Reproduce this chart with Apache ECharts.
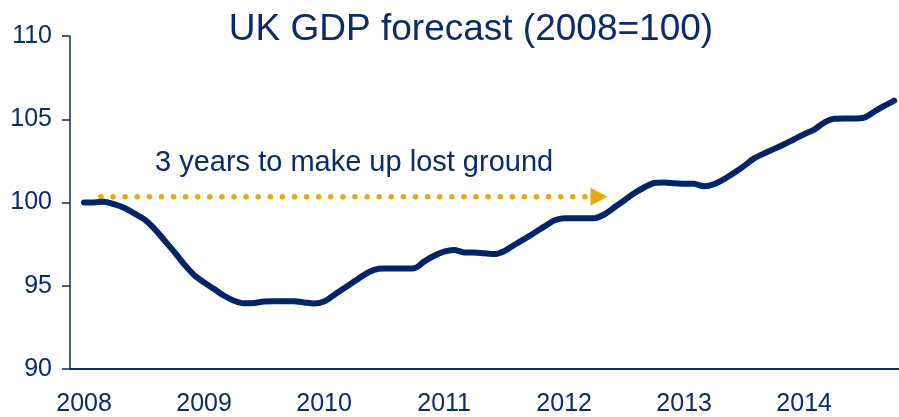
<!DOCTYPE html>
<html>
<head>
<meta charset="utf-8">
<script src="https://cdn.jsdelivr.net/npm/echarts@6/dist/echarts.min.js"></script>
<style>
  html, body { margin: 0; padding: 0; background: #fff; }
  #chart { width: 899px; height: 417px; }
</style>
</head>
<body>
<div id="chart"></div>
<script>
  // monthly GDP index, Jan 2008 .. Oct 2014 (2008 = 100)
  var startYear = 2008;
  var gdp = [
    100.0, 100.0, 100.05, 99.9, 99.68, 99.35, 99.0, 98.45, 97.75, 97.05, 96.3, 95.65,
    95.2, 94.8, 94.4, 94.1, 93.95, 93.97, 94.05, 94.07, 94.07, 94.07, 94.0, 93.93,
    94.05, 94.45, 94.85, 95.25, 95.65, 95.95, 96.03, 96.03, 96.03, 96.05, 96.45, 96.8,
    97.05, 97.15, 97.0, 97.0, 96.95, 96.9, 97.07, 97.45, 97.8, 98.17, 98.55, 98.92,
    99.06, 99.06, 99.06, 99.06, 99.28, 99.7, 100.12, 100.55, 100.9, 101.17, 101.2, 101.15,
    101.13, 101.12, 100.97, 101.1, 101.4, 101.78, 102.2, 102.65, 102.95, 103.22, 103.5, 103.8,
    104.1, 104.38, 104.8, 105.03, 105.05, 105.05, 105.1, 105.45, 105.8, 106.12
  ];
  var yearLabels = [2008, 2009, 2010, 2011, 2012, 2013, 2014];
  var yTicks = [90, 95, 100, 105, 110];

  // "3 years to make up lost ground" arrow
  var arrowStart = 2008.14;
  var arrowEnd = 2012.29;
  var arrowLevel = 100.35;
  var noteText = '3 years to make up lost ground';

  var navy = '#0B2A6B';
  var gold = '#E8A812';

  var gdpData = [];
  for (var i = 0; i < gdp.length; i++) {
    gdpData.push([startYear + i / 12, gdp[i]]);
  }

  var chart = echarts.init(document.getElementById('chart'));
  chart.setOption({
    animation: false,
    title: {
      text: 'UK GDP forecast (2008=100)',
      left: 466,
      textAlign: 'center',
      top: 6,
      textStyle: {
        color: navy,
        fontFamily: 'Liberation Sans',
        fontSize: 37,
        fontWeight: 'normal'
      }
    },
    grid: {
      left: 70,
      right: 0,
      top: 36,
      bottom: 48
    },
    xAxis: {
      type: 'value',
      min: 2007.883,
      max: 2014.79,
      splitLine: { show: false },
      axisTick: { show: false },
      axisLine: {
        onZero: false,
        lineStyle: { color: navy, width: 2 }
      },
      axisLabel: {
        customValues: yearLabels,
        formatter: function (v) { return String(v); },
        margin: 23,
        color: navy,
        fontFamily: 'Liberation Sans',
        fontSize: 25
      }
    },
    yAxis: {
      type: 'value',
      min: 90,
      max: 110,
      interval: 5,
      splitLine: { show: false },
      axisLine: {
        show: true,
        lineStyle: { color: navy, width: 1.5 }
      },
      axisTick: {
        show: true,
        length: 8,
        lineStyle: { color: navy, width: 1.5 }
      },
      axisLabel: {
        customValues: yTicks,
        margin: 18,
        color: navy,
        fontFamily: 'Liberation Sans',
        fontSize: 25
      }
    },
    graphic: [{
      type: 'text',
      left: 155,
      top: 148,
      style: {
        text: noteText,
        fill: navy,
        font: '29px "Liberation Sans"'
      }
    }],
    series: [
      {
        type: 'line',
        data: [
          { value: [arrowStart, arrowLevel], symbol: 'none' },
          {
            value: [arrowEnd, arrowLevel],
            symbol: 'triangle',
            symbolSize: [18, 17],
            symbolRotate: -90,
            itemStyle: { color: gold }
          }
        ],
        showSymbol: true,
        lineStyle: {
          color: gold,
          width: 5.5,
          type: [0.1, 12],
          cap: 'round'
        },
        z: 1
      },
      {
        type: 'line',
        data: gdpData,
        showSymbol: false,
        smooth: 0.3,
        lineStyle: {
          color: '#002468',
          width: 6,
          cap: 'round',
          join: 'round'
        },
        z: 3
      }
    ]
  });
</script>
</body>
</html>
